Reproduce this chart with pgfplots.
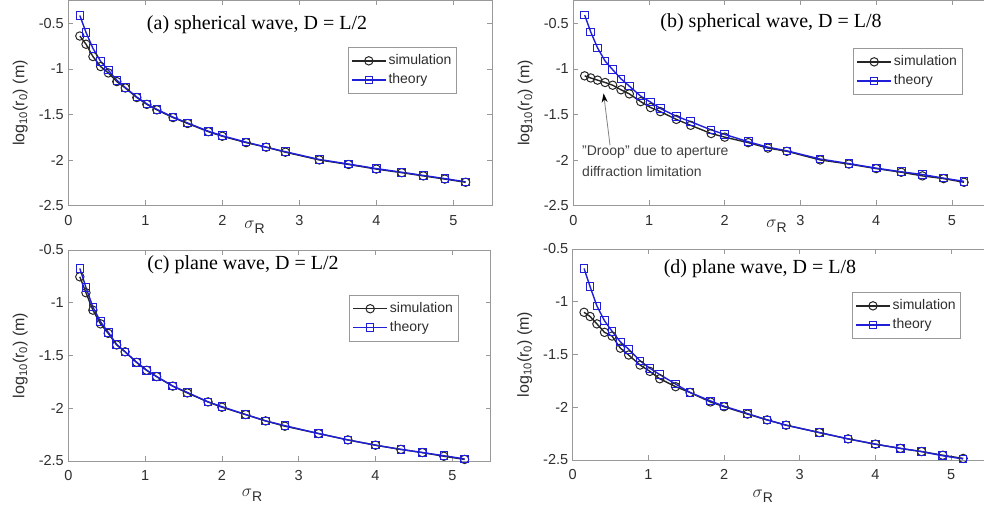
\documentclass[border=0pt]{standalone}
\usepackage{fontspec}
\setmainfont{Liberation Sans}
\newfontfamily\seriffont{Liberation Serif}
\usepackage{pgfplots}
\usepackage{pgfplotstable}
\pgfplotsset{compat=1.18}
\usetikzlibrary{arrows.meta}

\definecolor{thblue}{rgb}{0.12,0.12,0.85}
\definecolor{txt}{rgb}{0.18,0.18,0.18}

\pgfplotstableread{
x     sa     ta     sb     tb     sc     tc     sd     td
0.15 -0.64  -0.415 -1.077 -0.41  -0.754 -0.675 -1.10  -0.684
0.23 -0.73  -0.60  -1.10  -0.595 -0.905 -0.855 -1.14  -0.858
0.32 -0.865 -0.775 -1.124 -0.77  -1.07  -1.04  -1.21  -1.04
0.42 -0.975 -0.918 -1.15  -0.915 -1.20  -1.18  -1.29  -1.18
0.52 -1.045 -1.015 -1.18  -1.01  -1.29  -1.28  -1.325 -1.28
0.63 -1.14  -1.125 -1.23  -1.11  -1.40  -1.395 -1.44  -1.38
0.74 -1.21  -1.205 -1.275 -1.19  -1.465 -1.465 -1.505 -1.45
0.89 -1.315 -1.31  -1.36  -1.30  -1.565 -1.565 -1.60  -1.56
1.02 -1.39  -1.385 -1.425 -1.365 -1.64  -1.64  -1.66  -1.63
1.15 -1.45  -1.445 -1.47  -1.435 -1.70  -1.70  -1.73  -1.69
1.36 -1.535 -1.53  -1.555 -1.52  -1.79  -1.79  -1.805 -1.78
1.55 -1.60  -1.595 -1.62  -1.58  -1.855 -1.85  -1.86  -1.86
1.82 -1.69  -1.685 -1.71  -1.67  -1.94  -1.94  -1.95  -1.94
2.00 -1.74  -1.735 -1.75  -1.72  -1.99  -1.985 -1.995 -1.99
2.31 -1.81  -1.805 -1.81  -1.80  -2.06  -2.06  -2.065 -2.06
2.57 -1.86  -1.86  -1.87  -1.86  -2.12  -2.12  -2.12  -2.12
2.82 -1.915 -1.91  -1.905 -1.90  -2.17  -2.165 -2.17  -2.17
3.26 -2.00  -1.995 -2.00  -1.99  -2.24  -2.24  -2.24  -2.24
3.64 -2.05  -2.045 -2.045 -2.04  -2.30  -2.30  -2.30  -2.30
4.00 -2.10  -2.095 -2.095 -2.09  -2.35  -2.35  -2.35  -2.35
4.33 -2.14  -2.135 -2.135 -2.13  -2.39  -2.39  -2.39  -2.39
4.61 -2.175 -2.17  -2.175 -2.16  -2.42  -2.42  -2.42  -2.42
4.89 -2.21  -2.205 -2.205 -2.20  -2.455 -2.45  -2.455 -2.46
5.16 -2.245 -2.24  -2.245 -2.235 -2.485 -2.48  -2.485 -2.49
}\data

\newcommand\tickfont{\fontsize{14.5}{17}\selectfont}
\newcommand\labfont{\fontsize{16}{19}\selectfont}
\newcommand\titlefont{\seriffont\fontsize{20}{24}\selectfont}

\pgfplotsset{
  panel/.style={
    scale only axis,
    xmin=0, xmax=5.5, ymin=-2.5,
    xtick={0,1,2,3,4,5}, xticklabels={0,1,2,3,4,5},
    ytick={-2.5,-2,-1.5,-1,-0.5}, yticklabels={-2.5,-2,-1.5,-1,-0.5},
    axis line style={black!40, line width=0.6pt},
    tick style={black!40, line width=0.6pt},
    major tick length=5pt,
    tick align=inside,
    ticklabel style={font=\tickfont, text=txt},
    yticklabel style={xshift=-1pt},
    xticklabel style={yshift=-6pt},
    ylabel={log\textsubscript{10}(r\textsubscript{0}) (m)},
    ylabel style={at={([xshift=-48pt]axis description cs:0,0.5)}, anchor=center, font=\labfont, text=txt},
    xlabel={$\sigma$\raisebox{-5pt}{\fontsize{14}{16}\selectfont R}},
    legend cell align=left,
    legend image code/.code={\draw[mark repeat=2,mark phase=2] plot coordinates {(0pt,0pt) (17pt,0pt) (34pt,0pt)};},
    legend style={anchor=north west, draw=black!40, line width=0.6pt, fill=white,
      inner xsep=3pt, inner ysep=5pt, row sep=2pt,
      font=\fontsize{14}{16}\selectfont, text=txt,
      nodes={inner sep=2pt, text height=10pt, text depth=3pt}},
  },
  sim/.style={black!85, line width=1.4pt, mark=o, mark size=4.2pt, mark options={line width=1.0pt, fill=none}},
  th/.style={thblue, line width=1.4pt, mark=square, mark size=3.8pt, mark options={line width=1.0pt, fill=none}},
}

\begin{document}
\begin{tikzpicture}
\useasboundingbox (0pt,0pt) rectangle (984pt,508pt);

% (a)
\begin{axis}[panel, at={(68.3pt,302.5pt)}, anchor=south west,
  width=423.5pt, height=205pt, ymax=-0.25,
  xlabel style={at={([yshift=-22pt]axis description cs:0.44,0)}, anchor=center, font=\labfont, text=txt},
  legend style={at={(0.66,0.773)}}]
\addplot[sim] table[x=x,y=sa]{\data};
\addplot[th] table[x=x,y=ta]{\data};
\legend{simulation,theory}
\node[font=\titlefont] at (rel axis cs:0.4456,0.883) {(a) spherical wave, D = L/2};
\end{axis}

% (b)
\begin{axis}[panel, at={(573.3pt,302.5pt)}, anchor=south west,
  width=416.5pt, height=205pt, ymax=-0.25,
  xlabel style={at={([yshift=-21pt]axis description cs:0.488,0)}, anchor=center, font=\labfont, text=txt},
  legend style={at={(0.672,0.768)}}]
\addplot[sim] table[x=x,y=sb]{\data};
\addplot[th] table[x=x,y=tb]{\data};
\legend{simulation,theory}
\node[font=\titlefont] at (rel axis cs:0.4747,0.89) {(b) spherical wave, D = L/8};
\draw[black!50, line width=0.8pt, -{Stealth[length=9pt,width=6pt,black]}] (axis cs:0.485,-1.84) -- (axis cs:0.40,-1.27);
\node[anchor=north west, align=left, inner sep=0pt, font=\fontsize{14}{21}\selectfont, text=black!75] at (axis cs:0.115,-1.84) {"Droop" due to aperture\\diffraction limitation};
\end{axis}

% (c)
\begin{axis}[panel, at={(68.3pt,47pt)}, anchor=south west,
  width=422.4pt, height=211pt, ymax=-0.5,
  xlabel style={at={([yshift=-34pt]axis description cs:0.435,0)}, anchor=center, font=\labfont, text=txt},
  legend style={at={(0.665,0.787)}}]
\addplot[sim] table[x=x,y=sc]{\data};
\addplot[th] table[x=x,y=tc]{\data};
\legend{simulation,theory}
\node[font=\titlefont] at (rel axis cs:0.4136,0.929) {(c) plane wave, D = L/2};
\end{axis}

% (d)
\begin{axis}[panel, at={(572.7pt,48pt)}, anchor=south west,
  width=416.2pt, height=211pt, ymax=-0.5,
  xlabel style={at={([yshift=-36pt]axis description cs:0.457,0)}, anchor=center, font=\labfont, text=txt},
  legend style={at={(0.671,0.796)}}]
\addplot[sim] table[x=x,y=sd]{\data};
\addplot[th] table[x=x,y=td]{\data};
\legend{simulation,theory}
\node[font=\titlefont] at (rel axis cs:0.45,0.905) {(d) plane wave, D = L/8};
\end{axis}
\end{tikzpicture}
\end{document}
